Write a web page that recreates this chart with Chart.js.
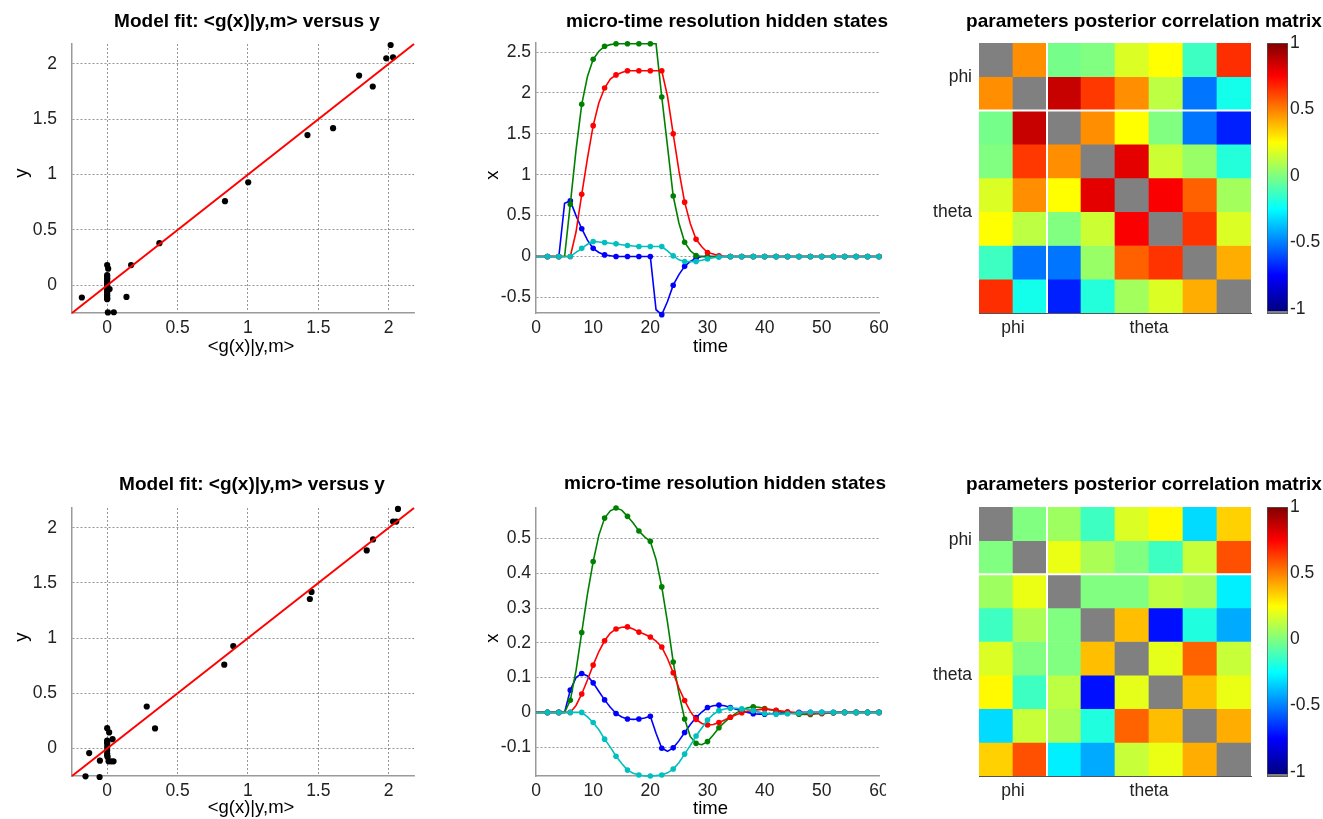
<!DOCTYPE html>
<html lang="en">
<head>
<meta charset="UTF-8">
<title>Model fit and hidden states</title>
<script src="https://cdn.jsdelivr.net/npm/chart.js"></script>
<style>
  body { margin: 0; background: #fff; width: 1323px; height: 819px; overflow: hidden; position: relative; }
  canvas { position: absolute; }
</style>
</head>
<body>
<canvas id="fit1" width="430" height="360" style="left:0;top:0"></canvas>
<canvas id="states1" width="460" height="360" style="left:440px;top:0"></canvas>
<canvas id="corr1" width="423" height="360" style="left:900px;top:0"></canvas>
<canvas id="cb1" width="63" height="360" style="left:1260px;top:0"></canvas>
<canvas id="fit2" width="430" height="359" style="left:0;top:460px"></canvas>
<canvas id="states2" width="446" height="359" style="left:440px;top:460px"></canvas>
<canvas id="corr2" width="423" height="359" style="left:900px;top:460px"></canvas>
<canvas id="cb2" width="63" height="359" style="left:1260px;top:460px"></canvas>
<script>
// ---- data ----
// model fit: predicted <g(x)|y,m> vs observed y
const fitX1 = [-0.18, 0, 0.007, 0, 0, 0, 0, 0, 0, 0, 0, 0, 0, 0, 0, 0, 0, 0, 0, 0.017, 0.005, 0.047, 0.137, 0.17, 0.371, 0.837, 1.002, 1.423, 1.605, 1.79, 1.887, 1.983, 2.014, 2.031];
const fitY1 = [-0.11, 0.183, 0.15, 0.093, 0.08, 0.063, 0.05, 0.033, 0.02, 0.003, -0.01, -0.027, -0.04, -0.057, -0.07, -0.087, -0.1, -0.117, -0.125, -0.033, -0.245, -0.243, -0.105, 0.183, 0.381, 0.76, 0.931, 1.357, 1.42, 1.895, 1.796, 2.051, 2.171, 2.06];
const fitX2 = [-0.154, -0.054, -0.128, -0.052, 0, 0.014, 0, 0, 0, 0, 0, 0, 0, 0.003, 0.01, 0.028, 0.045, 0.038, 0.281, 0.34, 0.832, 0.896, 1.44, 1.452, 1.844, 1.889, 2.031, 2.054, 2.066];
const fitY2 = [-0.253, -0.259, -0.042, -0.111, 0.184, 0.145, 0.072, 0.057, 0.042, 0.012, -0.018, -0.048, -0.065, -0.078, -0.117, -0.117, -0.117, 0.084, 0.38, 0.181, 0.759, 0.928, 1.355, 1.419, 1.795, 1.895, 2.057, 2.057, 2.172];
const fitLim = [-0.25, 2.18];
const fitTicks = [0, 0.5, 1, 1.5, 2];

// micro-time resolution hidden states
const time = [0,1,2,3,4,5,6,7,8,9,10,11,12,13,14,15,16,17,18,19,20,21,22,23,24,25,26,27,28,29,30,31,32,33,34,35,36,37,38,39,40,41,42,43,44,45,46,47,48,49,50,51,52,53,54,55,56,57,58,59,60];
const blue1 = [0,0,0,0,0, 0.65,0.68,0.5,0.34,0.2,0.1,0.05,0.02,0.01, 0,0,0,0,0,0,0, -0.65,-0.71,-0.55,-0.35,-0.22,-0.12,-0.06,-0.02, 0,0,0,0,0,0,0,0,0,0,0,0,0,0,0,0,0,0,0,0,0,0,0,0,0,0,0,0,0,0,0,0];
const green1 = [0,0,0,0,0,0, 0.64,1.3,1.86,2.2,2.41,2.51,2.57,2.59, 2.6,2.6,2.6,2.6,2.6,2.6,2.6,2.6, 1.95,1.35,0.74,0.41,0.175,0.07,0.012, 0,0,0,0,0,0,0,0,0,0,0,0,0,0,0,0,0,0,0,0,0,0,0,0,0,0,0,0,0,0,0,0];
const red1 = [0,0,0,0,0,0,0, 0.3,0.76,1.2,1.6,1.88,2.06,2.17,2.22,2.25, 2.27,2.27,2.27,2.27,2.27,2.27,2.27, 1.96,1.5,1.05,0.665,0.4,0.21,0.12,0.05,0.03,0.01, 0,0,0,0,0,0,0,0,0,0,0,0,0,0,0,0,0,0,0,0,0,0,0,0,0,0,0,0];
const cyan1 = [0,0,0,0,0,0,0, 0.05,0.1,0.15,0.183,0.178,0.171,0.163,0.155,0.145,0.135,0.128,0.122,0.122,0.122,0.122,0.122, 0.07,0.008,-0.04,-0.061,-0.062,-0.061,-0.045,-0.029,-0.015,-0.005, 0,0,0,0,0,0,0,0,0,0,0,0,0,0,0,0,0,0,0,0,0,0,0,0,0,0,0,0];
const blue2 = [0,0,0,0,0,0, 0.064,0.1,0.112,0.105,0.085,0.06,0.036,0.015,-0.003,-0.013,-0.019,-0.02,-0.019,-0.016,-0.011,-0.06,-0.103,-0.112,-0.102,-0.082,-0.058,-0.035,-0.015,0.001,0.014,0.019,0.021,0.019,0.014,0.009,0.005,0,-0.004,-0.005,-0.005,-0.004,-0.003,-0.002,-0.002,-0.001, 0,0,0,0,0,0,0,0,0,0,0,0,0,0,0];
const green2 = [0,0,0,0,0,0, 0.035,0.12,0.23,0.34,0.434,0.51,0.559,0.58,0.588,0.582,0.564,0.545,0.522,0.505,0.492,0.44,0.361,0.26,0.145,0.055,-0.019,-0.07,-0.089,-0.093,-0.084,-0.065,-0.044,-0.028,-0.014,-0.002,0.007,0.013,0.016,0.015,0.011,0.008,0.005,0.002,0,-0.003,-0.005,-0.006,-0.006,-0.004,-0.003,-0.002,-0.001, 0,0,0,0,0,0,0,0];
const red2 = [0,0,0,0,0,0,0, 0.02,0.053,0.093,0.136,0.175,0.206,0.228,0.24,0.245,0.246,0.24,0.231,0.225,0.217,0.205,0.188,0.155,0.114,0.07,0.034,0.003,-0.02,-0.032,-0.036,-0.035,-0.029,-0.022,-0.014,-0.007,-0.001,0.003,0.006,0.008,0.009,0.008,0.006,0.004,0.002,0,-0.002,-0.003,-0.004,-0.003,-0.003,-0.002,-0.001, 0,0,0,0,0,0,0,0];
const cyan2 = [0,0,0,0,0,0,0,0,0, -0.013,-0.029,-0.05,-0.077,-0.1,-0.126,-0.147,-0.166,-0.175,-0.18,-0.183,-0.183,-0.182,-0.18,-0.174,-0.163,-0.145,-0.12,-0.095,-0.068,-0.045,-0.022,-0.006,0.005,0.01,0.012,0.012,0.01,0.008,0.005,0.001,-0.003,-0.004,-0.005,-0.005,-0.004,-0.003,-0.002,-0.001, 0,0,0,0,0,0,0,0,0,0,0,0,0];
const timeTicks = [0, 10, 20, 30, 40, 50, 60];
const states1Lim = [-0.69, 2.61];
const states1Ticks = [-0.5, 0, 0.5, 1, 1.5, 2, 2.5];
const states2Lim = [-0.183, 0.588];
const states2Ticks = [-0.1, 0, 0.1, 0.2, 0.3, 0.4, 0.5];

// parameters posterior correlation matrices (null = diagonal)
const corr1 = [
  [null, 0.47, -0.02, 0.0, 0.18, 0.25, -0.13, 0.66],
  [0.47, null, 0.86, 0.64, 0.47, 0.12, -0.52, -0.21],
  [-0.02, 0.86, null, 0.47, 0.25, 0.0, -0.52, -0.69],
  [0.0, 0.64, 0.47, null, 0.8, 0.15, 0.05, -0.18],
  [0.18, 0.47, 0.25, 0.8, null, 0.76, 0.56, 0.07],
  [0.25, 0.12, 0.0, 0.15, 0.76, null, 0.65, 0.18],
  [-0.13, -0.52, -0.52, 0.05, 0.56, 0.65, null, 0.41],
  [0.66, -0.21, -0.69, -0.18, 0.07, 0.18, 0.41, null]
];
const corr2 = [
  [null, 0.0, 0.06, -0.13, 0.18, 0.26, -0.32, 0.34],
  [0.0, null, 0.21, 0.085, 0.0, -0.13, 0.14, 0.595],
  [0.06, 0.21, null, 0.0, 0.0, 0.12, 0.085, -0.28],
  [-0.13, 0.085, 0.0, null, 0.378, -0.72, -0.19, -0.415],
  [0.18, 0.0, 0.0, 0.378, null, 0.2, 0.555, 0.14],
  [0.26, -0.13, 0.12, -0.72, 0.2, null, 0.38, 0.21],
  [-0.32, 0.14, 0.085, -0.19, 0.555, 0.38, null, 0.41],
  [0.34, 0.595, -0.28, -0.415, 0.14, 0.21, 0.41, null]
];
const paramCells = ['1', '2', '3', '4', '5', '6', '7', '8'];
const paramNames = ['phi', 'theta'];
const paramSizes = [2, 6];
const cbTicks = [-1, -0.5, 0, 0.5, 1];
const cbRange = [-1.04, 1];

// ---- styling ----
Chart.defaults.font.family = '"Liberation Sans", Arial, sans-serif';
Chart.defaults.color = '#222';
Chart.defaults.animation = false;
Chart.defaults.plugins.legend.display = false;
Chart.defaults.plugins.tooltip.enabled = false;

const tickFont = { size: 17.5 };
const titleFont = 'bold 19px "Liberation Sans", Arial, sans-serif';
const labelFont = '18.5px "Liberation Sans", Arial, sans-serif';
const gridColor = '#7a7a7a';
const axisColor = '#9a9a9a';
const nanGray = '#808080';
const stateColors = { blue: '#0000ff', green: '#008000', red: '#ff0000', cyan: '#00bfbf' };
const plainNum = v => String(v);

// jet colormap, v in [-1, 1]
function jet(v) {
  const t = (v + 1) / 2;
  const c = x => Math.round(255 * Math.max(0, Math.min(1, x)));
  return 'rgb(' + c(1.5 - Math.abs(4 * t - 3)) + ',' + c(1.5 - Math.abs(4 * t - 2)) + ',' + c(1.5 - Math.abs(4 * t - 1)) + ')';
}

// text drawn at fixed spots of each canvas
Chart.register({
  id: 'panelText',
  afterDraw(chart, args, opts) {
    const c = chart.ctx;
    (opts.items || []).forEach(it => {
      c.save();
      c.font = it.font;
      c.fillStyle = '#000';
      c.textAlign = 'center';
      c.textBaseline = 'middle';
      c.translate(it.x, it.y);
      if (it.rotate) c.rotate(-Math.PI / 2);
      c.fillText(it.text, 0, 0);
      c.restore();
    });
  }
});

// white lines between the parameter groups of the matrix
const groupLines = {
  id: 'groupLines',
  afterDatasetsDraw(chart) {
    const a = chart.chartArea, c = chart.ctx;
    const px = chart.scales.xp.getPixelForValue(paramSizes[0]);
    const py = chart.scales.y.getPixelForValue(paramSizes[0]);
    c.save();
    c.strokeStyle = '#fff';
    c.lineWidth = 2;
    c.beginPath();
    c.moveTo(px, a.top); c.lineTo(px, a.bottom);
    c.moveTo(a.left, py); c.lineTo(a.right, py);
    c.stroke();
    c.restore();
  }
};

const fixW = w => s => { s.width = w; s.paddingTop = 0; s.paddingBottom = 0; };
const fixH = h => s => { s.height = h; s.paddingLeft = 0; s.paddingRight = 0; };
const setTicks = list => s => { s.ticks = list.map(v => ({ value: v })); };
const pts = (xs, ys) => xs.map((x, i) => ({ x: x, y: ys[i] }));

function text(t, x, y, font, rotate) {
  return { text: t, x: x, y: y, font: font, rotate: !!rotate };
}

// ---- model fit scatter ----
function fitChart(id, xs, ys, h, area, texts) {
  new Chart(document.getElementById(id), {
    type: 'scatter',
    data: {
      datasets: [
        { type: 'line', data: [{ x: fitLim[0], y: fitLim[0] }, { x: fitLim[1], y: fitLim[1] }],
          borderColor: '#ff0000', borderWidth: 2, pointRadius: 0, clip: false },
        { data: pts(xs, ys), backgroundColor: '#000', borderColor: '#000', pointRadius: 3.1, borderWidth: 0, clip: false }
      ]
    },
    options: {
      responsive: false,
      layout: { padding: { left: 0, top: area.t, right: 430 - area.r, bottom: 0 } },
      scales: {
        x: { type: 'linear', min: fitLim[0], max: fitLim[1], afterBuildTicks: setTicks(fitTicks), afterFit: fixH(h - area.b),
             grid: { color: gridColor, drawTicks: false, lineWidth: 0.8 }, border: { color: axisColor, width: 1.5, dash: [2, 2] },
             ticks: { font: tickFont, padding: 5, maxRotation: 0, callback: plainNum } },
        y: { type: 'linear', min: fitLim[0], max: fitLim[1], afterBuildTicks: setTicks(fitTicks), afterFit: fixW(area.l),
             grid: { color: gridColor, drawTicks: false, lineWidth: 0.8 }, border: { color: axisColor, width: 1.5, dash: [2, 2] },
             ticks: { font: tickFont, padding: 15, callback: plainNum } }
      },
      plugins: { panelText: { items: texts } }
    }
  });
}

// ---- hidden states ----
function statesChart(id, series, lim, yTicks, w, h, area, texts) {
  const sets = [];
  series.forEach(s => {
    const marks = time.map((t, i) => ({ x: t, y: s.values[i] })).filter(p => p.x > 0 && p.x % 2 === 0);
    sets.push({ data: marks, backgroundColor: s.color, borderWidth: 0, pointRadius: 2.8, showLine: false, clip: false });
    sets.push({ data: pts(time, s.values), borderColor: s.color, borderWidth: 1.6, pointRadius: 0, showLine: true, clip: false });
  });
  new Chart(document.getElementById(id), {
    type: 'scatter',
    data: { datasets: sets },
    options: {
      responsive: false,
      layout: { padding: { left: 0, top: area.t, right: w - area.r, bottom: 0 } },
      scales: {
        x: { type: 'linear', min: timeTicks[0], max: timeTicks[timeTicks.length - 1], afterBuildTicks: setTicks(timeTicks), afterFit: fixH(h - area.b),
             grid: { display: false, drawTicks: false }, border: { color: axisColor, width: 1.5 },
             ticks: { font: tickFont, padding: 5, maxRotation: 0, callback: plainNum } },
        y: { type: 'linear', min: lim[0], max: lim[1], afterBuildTicks: setTicks(yTicks), afterFit: fixW(area.l),
             grid: { color: gridColor, drawTicks: false, lineWidth: 0.8 }, border: { color: axisColor, width: 1.5, dash: [2, 2] },
             ticks: { font: tickFont, padding: 5, callback: plainNum } }
      },
      plugins: { panelText: { items: texts } }
    }
  });
}

// ---- correlation matrix ----
function corrChart(id, matrix, w, h, area, texts) {
  const groupTicks = [], names = {};
  let start = 0;
  paramSizes.forEach((n, i) => { groupTicks.push(start + n / 2); names[start + n / 2] = paramNames[i]; start += n; });
  new Chart(document.getElementById(id), {
    type: 'bar',
    data: {
      labels: paramCells,
      datasets: matrix.map(row => ({
        data: row.map(() => 1),
        backgroundColor: row.map(v => v === null ? nanGray : jet(v)),
        borderWidth: 0, barPercentage: 1, categoryPercentage: 1
      }))
    },
    options: {
      responsive: false,
      layout: { padding: { left: 0, top: area.t, right: w - area.r, bottom: 0 } },
      scales: {
        x: { display: false, stacked: true },
        xp: { type: 'linear', position: 'bottom', offset: false, min: 0, max: paramCells.length, afterBuildTicks: setTicks(groupTicks), afterFit: fixH(h - area.b),
              grid: { display: false, drawTicks: false, offset: false }, border: { color: '#555', width: 1 },
              ticks: { font: tickFont, padding: 5, maxRotation: 0, callback: v => names[v] } },
        y: { type: 'linear', stacked: true, reverse: true, min: 0, max: paramCells.length, afterBuildTicks: setTicks(groupTicks), afterFit: fixW(area.l),
             grid: { display: false, drawTicks: false }, border: { color: '#555', width: 1 },
             ticks: { font: tickFont, padding: 7, callback: v => names[v] } }
      },
      plugins: { panelText: { items: texts } }
    },
    plugins: [groupLines]
  });
}

// ---- colour bar ----
function colorbarFill(chart) {
  const a = chart.chartArea;
  if (!a) return nanGray;
  const y = chart.scales.y;
  const g = chart.ctx.createLinearGradient(0, a.bottom, 0, a.top);
  const pos = v => Math.max(0, Math.min(1, (a.bottom - y.getPixelForValue(v)) / (a.bottom - a.top)));
  const start = cbTicks[0] - 0.02;
  g.addColorStop(0, nanGray);
  g.addColorStop(pos(start), nanGray);
  g.addColorStop(pos(start) + 0.001, jet(-1));
  [-0.75, -0.25, 0.25, 0.75, 1].forEach(v => g.addColorStop(pos(v), jet(v)));
  return g;
}

function colorbarChart(id, h, area) {
  new Chart(document.getElementById(id), {
    type: 'bar',
    data: { labels: [''], datasets: [{ data: [cbRange], backgroundColor: ctx => colorbarFill(ctx.chart),
      borderColor: '#555', borderWidth: 1, borderSkipped: false, barPercentage: 1, categoryPercentage: 1 }] },
    options: {
      responsive: false,
      layout: { padding: { left: area.l, top: area.t, right: 0, bottom: h - area.b } },
      scales: {
        x: { display: false },
        y: { position: 'right', min: cbRange[0], max: cbRange[1], afterBuildTicks: setTicks(cbTicks), afterFit: fixW(63 - area.r),
             grid: { display: false, drawTicks: false }, border: { display: false },
             ticks: { font: tickFont, padding: 2, callback: plainNum } }
      }
    }
  });
}

const modelTitle = 'Model fit: <g(x)|y,m> versus y';
const statesTitle = 'micro-time resolution hidden states';
const corrTitle = 'parameters posterior correlation matrix';

fitChart('fit1', fitX1, fitY1, 360, { l: 72, t: 44, r: 414, b: 313 }, [
  text(modelTitle, 247, 22, titleFont), text('<g(x)|y,m>', 251, 347, labelFont), text('y', 22, 173, labelFont, true)
]);
statesChart('states1', [
  { values: cyan1, color: stateColors.cyan }, { values: red1, color: stateColors.red },
  { values: green1, color: stateColors.green }, { values: blue1, color: stateColors.blue }
], states1Lim, states1Ticks, 460, 360, { l: 96, t: 43, r: 439, b: 313 }, [
  text(statesTitle, 287, 22, titleFont), text('time', 270.5, 347, labelFont), text('x', 53, 175, labelFont, true)
]);
corrChart('corr1', corr1, 423, 360, { l: 79, t: 43, r: 351, b: 313 }, [text(corrTitle, 244, 22, titleFont)]);
colorbarChart('cb1', 360, { l: 7, t: 43, r: 28, b: 314 });

fitChart('fit2', fitX2, fitY2, 359, { l: 72, t: 48, r: 414, b: 316 }, [
  text(modelTitle, 252, 25, titleFont), text('<g(x)|y,m>', 251, 348, labelFont), text('y', 22, 177, labelFont, true)
]);
statesChart('states2', [
  { values: cyan2, color: stateColors.cyan }, { values: red2, color: stateColors.red },
  { values: green2, color: stateColors.green }, { values: blue2, color: stateColors.blue }
], states2Lim, states2Ticks, 446, 359, { l: 96, t: 48, r: 439, b: 316 }, [
  text(statesTitle, 285, 24, titleFont), text('time', 270.5, 349, labelFont), text('x', 53, 178, labelFont, true)
]);
corrChart('corr2', corr2, 423, 359, { l: 79, t: 47, r: 351, b: 316 }, [text(corrTitle, 244, 25, titleFont)]);
colorbarChart('cb2', 359, { l: 7, t: 47, r: 28, b: 317 });
</script>
</body>
</html>
